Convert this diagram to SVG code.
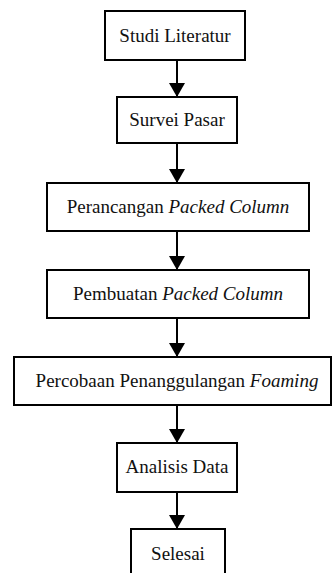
<svg xmlns="http://www.w3.org/2000/svg" width="335" height="573" viewBox="0 0 335 573">
<defs>
<style>
.box{fill:#fff;stroke:#000;stroke-width:2}
.lbl{font-family:"Liberation Serif","Times New Roman","DejaVu Serif",serif;font-size:19px;fill:#111;text-anchor:middle}
.it{font-style:italic}
.conn{stroke:#000;stroke-width:2;fill:none;marker-end:url(#ah)}
</style>
<marker id="ah" viewBox="0 0 14 16" refX="14" refY="8" markerWidth="7" markerHeight="8" markerUnits="strokeWidth" orient="auto">
<path d="M0,0 L14,8 L0,16 Z" fill="#000"/>
</marker>
</defs>
<rect width="335" height="573" fill="#fff"/>
<g id="connectors">
<line class="conn" x1="177" y1="60" x2="177" y2="97"/>
<line class="conn" x1="177" y1="143" x2="177" y2="183"/>
<line class="conn" x1="177" y1="231" x2="177" y2="270"/>
<line class="conn" x1="177" y1="318" x2="177" y2="357"/>
<line class="conn" x1="177" y1="405" x2="177" y2="443"/>
<line class="conn" x1="177" y1="492" x2="177" y2="529"/>
</g>
<g id="n1"><rect class="box" x="105" y="11" width="140" height="49"/><text class="lbl" x="175" y="42">Studi Literatur</text></g>
<g id="n2"><rect class="box" x="117" y="97" width="120" height="46"/><text class="lbl" x="177" y="126">Survei Pasar</text></g>
<g id="n3"><rect class="box" x="47" y="183" width="262" height="48"/><text class="lbl" x="178" y="213">Perancangan <tspan class="it">Packed Column</tspan></text></g>
<g id="n4"><rect class="box" x="47" y="270" width="262" height="48"/><text class="lbl" x="178" y="300">Pembuatan <tspan class="it">Packed Column</tspan></text></g>
<g id="n5"><rect class="box" x="14" y="357" width="317" height="48"/><text class="lbl" x="177" y="387">Percobaan Penanggulangan <tspan class="it">Foaming</tspan></text></g>
<g id="n6"><rect class="box" x="117" y="443" width="120" height="49"/><text class="lbl" x="177" y="473">Analisis Data</text></g>
<g id="n7"><rect class="box" x="131" y="529" width="94" height="50"/><text class="lbl" x="178" y="560">Selesai</text></g>
</svg>
